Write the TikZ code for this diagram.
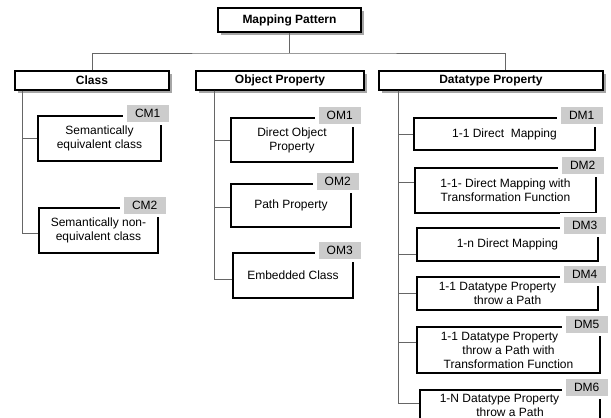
\documentclass[tikz,border=0pt]{standalone}
\usepackage{fontspec}
\setmainfont{Liberation Sans}
\usetikzlibrary{positioning,shadows}

\begin{document}
\begin{tikzpicture}[
      x = 1pt, y = -1pt,
      font = \fontsize{12}{14}\selectfont
    ]
    \tikzstyle{my line} = [draw=black!60, line width=0.9pt]
    \tikzstyle{head node} = [draw, fill=white, line width=1.2pt, inner sep=0pt,
      minimum height=19pt, font=\fontsize{12}{14}\selectfont\bfseries,
      drop shadow={shadow xshift=3pt, shadow yshift=-3pt, fill=black!35, opacity=1}]
    \tikzstyle{item node} = [draw, line width=1.4pt, inner sep=0pt, align=center]
    \tikzstyle{tag node} = [fill=black!20, minimum width=42pt, minimum height=17pt,
      inner sep=0pt, preaction={draw=white, line width=7pt}]
    \useasboundingbox (0,0) rectangle (611,418);
    \clip (0,0) rectangle (611,418);

    % headers
    \node[head node, minimum width=143pt, minimum height=24pt] (top) at (289.5,20) {Mapping Pattern};
    \node[head node, minimum width=154pt] (cls) at (92,80.5) {Class};
    \node[head node, minimum width=168pt] (obj) at (280,80.5) {Object Property};
    \node[head node, minimum width=224pt] (dat) at (491,80.5) {Datatype Property};

    % class mappings
    \node[item node, minimum width=123pt, minimum height=45pt] (cm1) at (99.5,138.5) {Semantically\\equivalent class};
    \node[item node, minimum width=119pt, minimum height=45pt] (cm2) at (98.5,230.5) {Semantically non-\\equivalent class};

    % object property mappings
    \node[item node, minimum width=122pt, minimum height=44pt] (om1) at (292,140) {Direct Object\\Property};
    \node[item node, minimum width=120pt, minimum height=43pt] (om2) at (291,205.5) {Path Property};
    \node[item node, minimum width=120pt, minimum height=45pt] (om3) at (293,275.5) {Embedded Class};

    % datatype property mappings
    \node[item node, minimum width=181pt, minimum height=32pt] (dm1) at (504.5,134) {1-1 Direct~ Mapping};
    \node[item node, minimum width=181pt, minimum height=45pt] (dm2) at (505.5,190.5) {1-1- Direct Mapping with\\Transformation Function};
    \node[item node, minimum width=181pt, minimum height=33pt] (dm3) at (507.5,244.5) {1-n Direct Mapping};
    \node[item node, minimum width=181pt, minimum height=33pt] (dm4) at (507.5,293.5) {1-1 Datatype Property\hspace*{20pt}\\throw a Path};
    \node[item node, minimum width=183pt, minimum height=46pt] (dm5) at (508.5,350) {1-1 Datatype Property\hspace*{18pt}\\throw a Path with\\Transformation Function};
    \node[item node, minimum width=180pt, minimum height=30pt] (dm6) at (510,405) {1-N Datatype Property\hspace*{21pt}\\throw a Path};

    \foreach \n/\t in {cm1/CM1, cm2/CM2, om1/OM1, om2/OM2, om3/OM3,
                       dm1/DM1, dm2/DM2, dm3/DM3, dm4/DM4, dm5/DM5, dm6/DM6}
      \node[tag node, xshift=-14pt, yshift=2pt] (\n t) at (\n.north east) {\t};

    \coordinate (bar) at (290,53);
    \draw[my line] (top) -- (top.south |- bar);
    \draw[my line] (cls.north) |- (bar) -| ([xshift=14pt]dat.north);

    \foreach \n/\s in {cm1/0, cm2/-2.5}
      \draw[my line] ([xshift=8pt]cls.south west) |- ([yshift=\s pt]\n.west);
    \foreach \n/\s in {om1/0, om2/-1.5, om3/-3.5}
      \draw[my line] ([xshift=19pt]obj.south west) |- ([yshift=\s pt]\n.west);
    \foreach \n/\s in {dm1/0, dm2/8.5, dm3/-9.5, dm4/0, dm5/8, dm6/1.5}
      \draw[my line] ([xshift=20pt]dat.south west) |- ([yshift=\s pt]\n.west);
  \end{tikzpicture}
\end{document}
